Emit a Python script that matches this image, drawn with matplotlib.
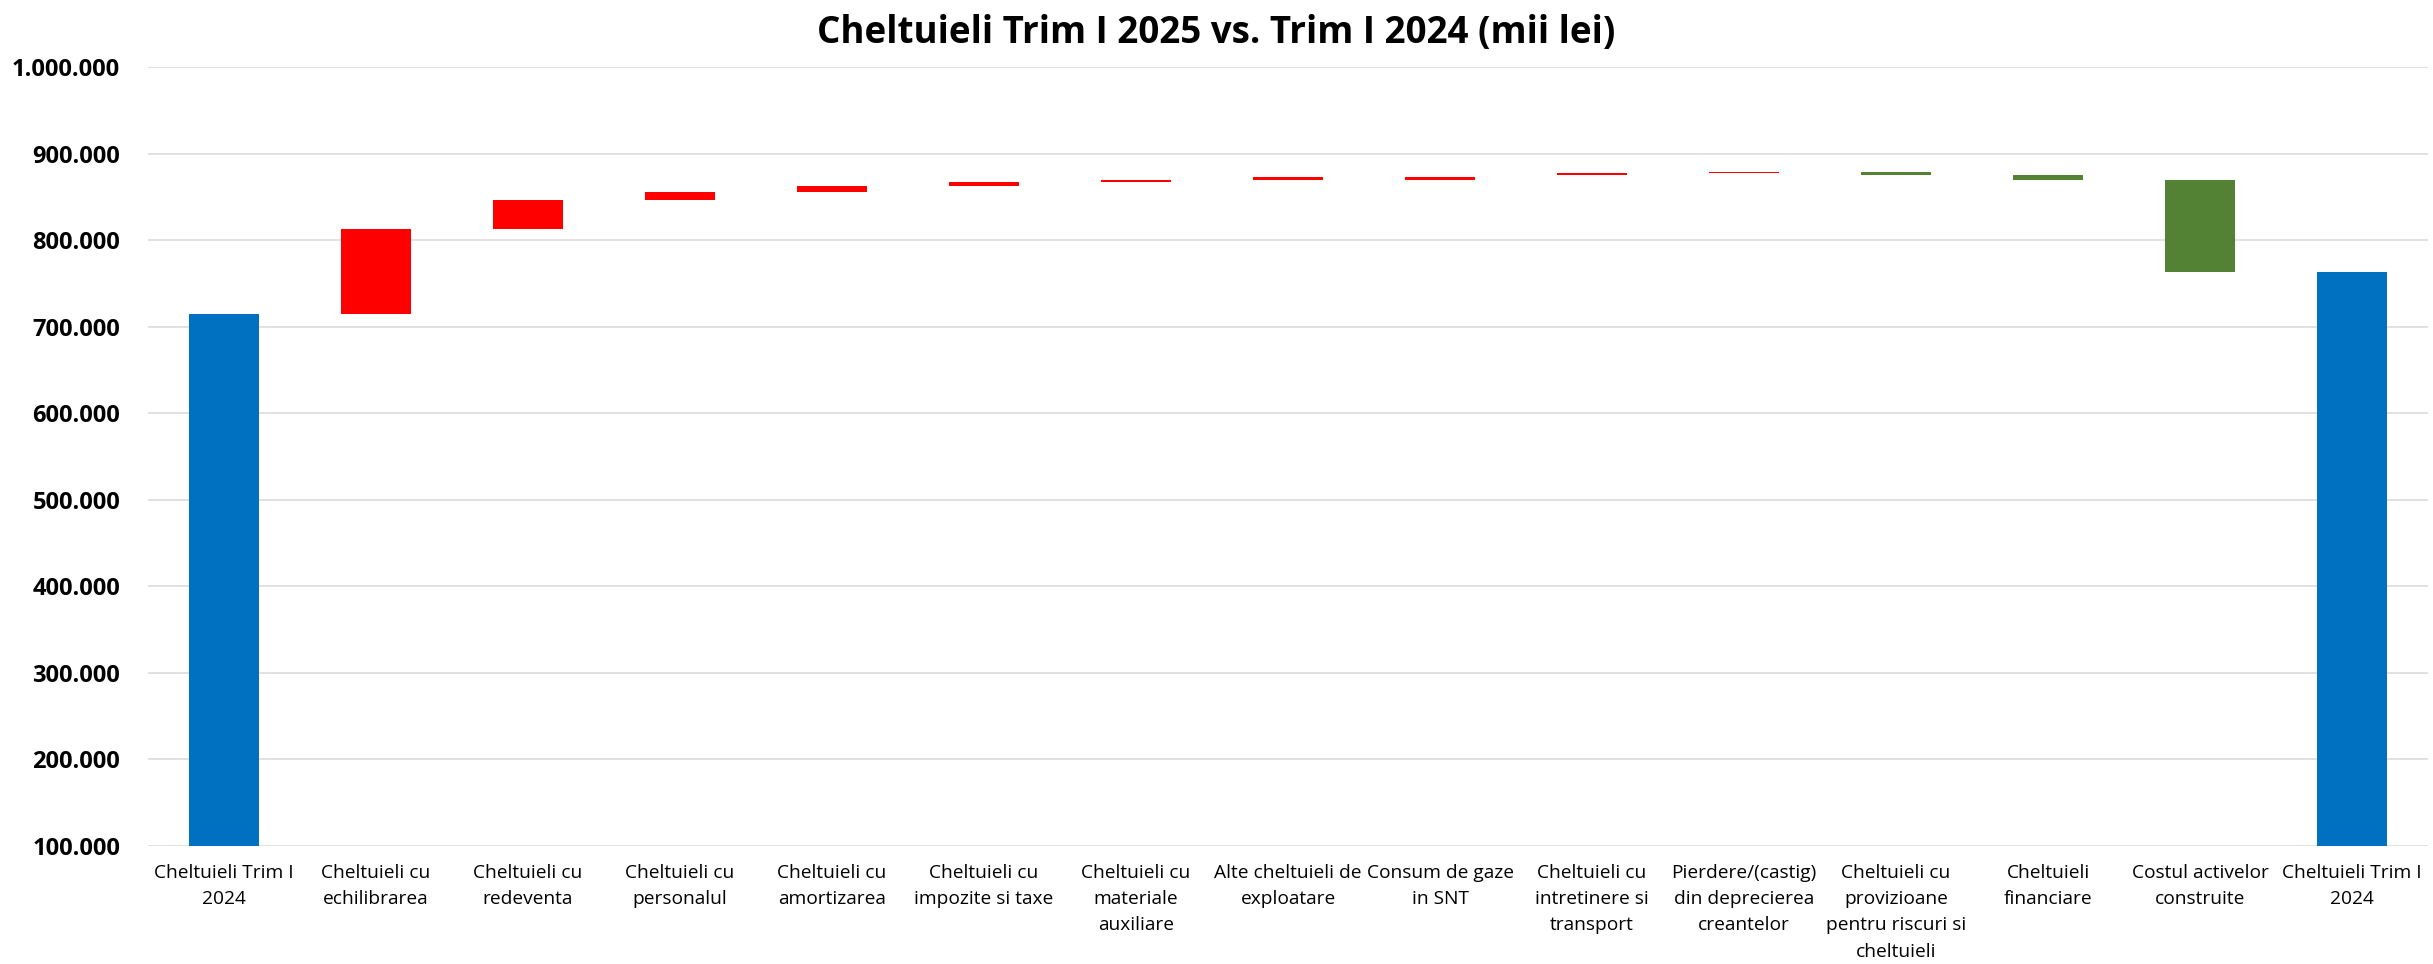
import matplotlib.pyplot as plt
from matplotlib.ticker import FuncFormatter, MultipleLocator

# Categorii (axa X)
categorii = [
    "Cheltuieli Trim I\n2024",
    "Cheltuieli cu\nechilibrarea",
    "Cheltuieli cu\nredeventa",
    "Cheltuieli cu\npersonalul",
    "Cheltuieli cu\namortizarea",
    "Cheltuieli cu\nimpozite si taxe",
    "Cheltuieli cu\nmateriale\nauxiliare",
    "Alte cheltuieli de\nexploatare",
    "Consum de gaze\nin SNT",
    "Cheltuieli cu\nintretinere si\ntransport",
    "Pierdere/(castig)\ndin deprecierea\ncreantelor",
    "Cheltuieli cu\nprovizioane\npentru riscuri si\ncheltuieli",
    "Cheltuieli\nfinanciare",
    "Costul activelor\nconstruite",
    "Cheltuieli Trim I\n2024",
]

# valoare de plecare / valoare de sosire pentru fiecare bara (mii lei)
inceput = [0, 714700, 813000, 846900, 855800, 862700, 867300, 869700,
           869700, 875800, 878100, 878600, 875400, 870000, 0]
sfarsit = [714700, 813000, 846900, 855800, 862700, 867300, 869700, 873100,
           873100, 877400, 878900, 875400, 870000, 763800, 763800]
tip = ["total", "crestere", "crestere", "crestere", "crestere", "crestere",
       "crestere", "crestere", "crestere", "crestere", "crestere",
       "scadere", "scadere", "scadere", "total"]

culori = {"total": "#0070C0", "crestere": "#FF0000", "scadere": "#548235"}

plt.rcParams["font.family"] = ["Open Sans", "DejaVu Sans"]

fig = plt.figure(figsize=(24.33, 9.64), dpi=100)
ax = fig.add_axes([0.0608, 0.1229, 0.9372, 0.8073])

x = list(range(len(categorii)))
inaltimi = [abs(s - i) for i, s in zip(inceput, sfarsit)]
baze = [min(i, s) for i, s in zip(inceput, sfarsit)]
ax.bar(x, inaltimi, bottom=baze, width=0.46,
       color=[culori[t] for t in tip], zorder=3)

ax.set_xlim(-0.5, len(categorii) - 0.5)
ax.set_ylim(100000, 1000000)
ax.yaxis.set_major_locator(MultipleLocator(100000))
ax.yaxis.set_major_formatter(
    FuncFormatter(lambda v, p: f"{int(v):,}".replace(",", ".")))
ax.grid(axis="y", color="#D9D9D9", linewidth=1.1, zorder=0)
ax.set_axisbelow(True)

for s in ax.spines.values():
    s.set_visible(False)
ax.tick_params(axis="both", length=0)
ax.tick_params(axis="y", labelsize=17, pad=20)
for lbl in ax.get_yticklabels():
    lbl.set_fontweight("bold")
ax.set_xticks(x)
ax.set_xticklabels(categorii, fontsize=13.8, linespacing=1.6)
ax.tick_params(axis="x", pad=13)

fig.suptitle("Cheltuieli Trim I 2025 vs. Trim I 2024 (mii lei)",
             fontsize=26.5, fontweight="bold", y=0.966, va="center")

fig.savefig("out.png", dpi=100)
